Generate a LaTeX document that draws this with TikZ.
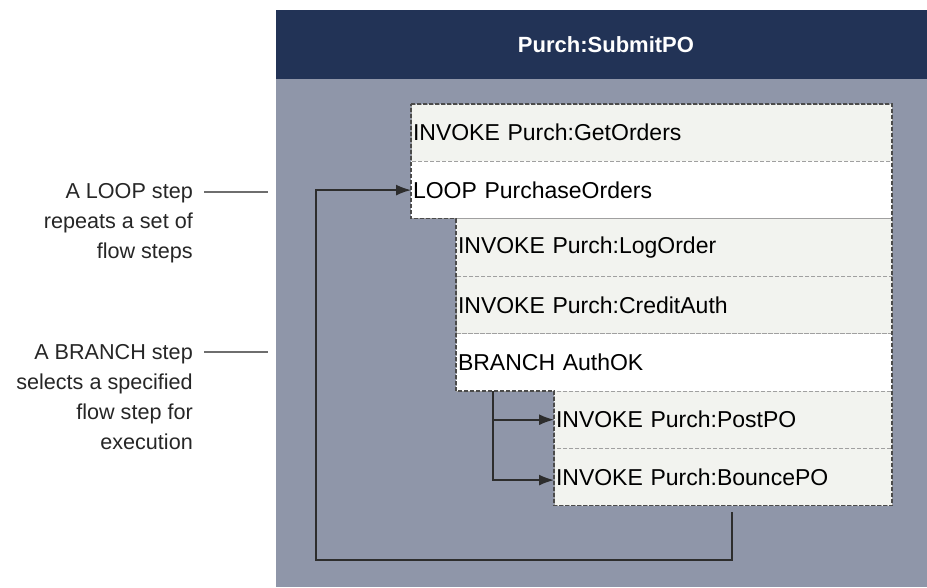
\documentclass[tikz,border=0pt]{standalone}
\usepackage{fontspec}
\setmainfont{Liberation Sans}
\usetikzlibrary{arrows.meta,positioning}
\definecolor{HeadNavy}{RGB}{34,51,86}
\definecolor{PanelGray}{RGB}{143,150,169}
\definecolor{StepFill}{RGB}{242,243,239}
\definecolor{EdgeGray}{RGB}{75,75,75}
\definecolor{RuleGray}{RGB}{160,160,160}
\definecolor{WireGray}{RGB}{45,45,45}
\definecolor{NoteGray}{RGB}{110,110,110}
\tikzset{
  flowrow/.style={fill=StepFill,draw=RuleGray,dash pattern=on 4pt off 2pt,line width=1pt,
    minimum height=57.4pt,inner xsep=2pt,inner ysep=0pt,outer sep=0pt,align=left,
    font=\fontsize{23}{27}\selectfont},
  looprow/.style={flowrow,fill=white},
  outline/.style={draw=EdgeGray,dash pattern=on 4pt off 2pt,line width=1.3pt},
  note/.style={align=right,inner sep=0pt,anchor=north east,
    font=\fontsize{21.6}{30}\selectfont,text=black!85},
  pointer/.style={NoteGray,line width=1.5pt},
  wire/.style={-{Latex[length=15pt,width=11pt]},line width=1.6pt,WireGray}
}
\begin{document}
\begin{tikzpicture}[x=1pt,y=-1pt,node distance=0pt]
  \useasboundingbox (0,0) rectangle (927,587);
  % panel and title bar
  \fill[PanelGray] (276,10) rectangle (927,587);
  \fill[HeadNavy] (276,10) rectangle (927,79);
  \node[text=white,font=\fontsize{22}{26}\selectfont\bfseries] (title) at (606,44.5) {Purch:SubmitPO};

  % flow steps
  \node[flowrow,text width=477pt,anchor=north west] (getorders) at (411,104) {INVOKE Purch:GetOrders};
  \node[looprow,text width=477pt,below=of getorders.south west,anchor=north west] (loop) {LOOP PurchaseOrders};
  \node[flowrow,text width=432pt,below=of loop.south west,anchor=north west,xshift=45pt] (logorder) {INVOKE Purch:LogOrder};
  \node[flowrow,text width=432pt,below=of logorder.south west,anchor=north west] (creditauth) {INVOKE Purch:CreditAuth};
  \node[looprow,text width=432pt,below=of creditauth.south west,anchor=north west] (branch) {BRANCH AuthOK};
  \node[flowrow,text width=334pt,below=of branch.south west,anchor=north west,xshift=98pt] (postpo) {INVOKE Purch:PostPO};
  \node[flowrow,text width=334pt,below=of postpo.south west,anchor=north west] (bouncepo) {INVOKE Purch:BouncePO};

  \draw[outline] (getorders.north west) -- (getorders.north east) -- (bouncepo.south east)
    -- (bouncepo.south west) -- (postpo.north west) -- (branch.south west)
    -- (logorder.north west) -- (loop.south west) -- cycle;

  % loop back
  \coordinate (loopfoot) at (732,512);
  \coordinate (loopcorner) at (316,560);
  \draw[wire] (loopfoot) |- (loopcorner) |- (loop.west);

  % branch targets
  \coordinate (fork) at ([xshift=37pt]branch.south west);
  \draw[wire] (fork) |- (postpo.west);
  \draw[wire] (fork) |- ([yshift=-3pt]bouncepo.west);

  % notes
  \node[note] (loopnote) at (193,183) {A LOOP step\\repeats a set of\\flow steps};
  \node[note] (branchnote) at (193,344) {A BRANCH step\\selects a specified\\flow step for\\execution};
  \draw[pointer] ([xshift=11pt,yshift=-9pt]loopnote.north east) -- ++(64,0);
  \draw[pointer] ([xshift=11pt,yshift=-8pt]branchnote.north east) -- ++(64,0);
\end{tikzpicture}
\end{document}
